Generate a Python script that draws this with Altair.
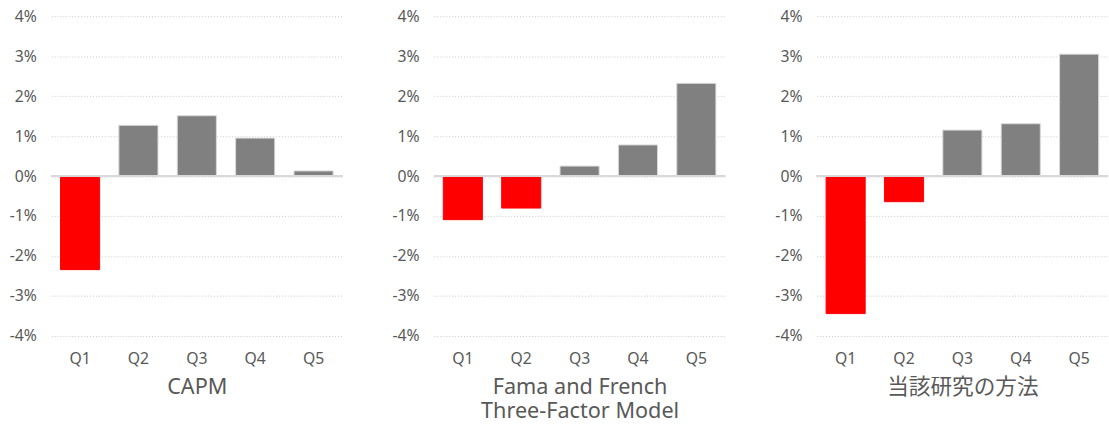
import altair as alt
import pandas as pd

quintiles = ["Q1", "Q2", "Q3", "Q4", "Q5"]
capm = [-2.34, 1.27, 1.51, 0.95, 0.13]
ff3 = [-1.09, -0.80, 0.25, 0.78, 2.32]
study = [-3.44, -0.64, 1.15, 1.31, 3.05]
titles = ["CAPM", ["Fama and French", "Three-Factor Model"], "当該研究の方法"]
y_ticks = [-4, -3, -2, -1, 0, 1, 2, 3, 4]

FONT = "'Noto Sans', 'Noto Sans CJK JP', sans-serif"
TXT = "#595959"


def panel(values, title):
    df = pd.DataFrame({"q": quintiles, "v": values})
    base = alt.Chart(df)
    x = alt.X(
        "q:N",
        sort=quintiles,
        scale=alt.Scale(paddingInner=0.33, paddingOuter=0.16),
        axis=alt.Axis(
            title=title,
            labelAngle=0,
            domain=False,
            ticks=False,
            labelPadding=15,
            labelFontSize=16,
            labelColor=TXT,
            labelFont=FONT,
            titleFont=FONT,
            titleFontSize=22,
            titleFontWeight="normal",
            titleColor=TXT,
            titlePadding=10,
        ),
    )
    y = alt.Y(
        "v:Q",
        scale=alt.Scale(domain=[-4, 4], nice=False),
        axis=alt.Axis(
            title=None,
            values=y_ticks,
            labelExpr="datum.value + '%'",
            domain=False,
            ticks=False,
            labelPadding=15,
            labelFontSize=16,
            labelColor=TXT,
            labelFont=FONT,
            grid=True,
            gridDash=[1, 2],
            gridColor="#c8c8c8",
            gridWidth=1,
        ),
    )
    bars = base.mark_bar(strokeWidth=1).encode(
        x=x,
        y=y,
        fill=alt.condition("datum.v < 0", alt.value("#ff0000"), alt.value("#808080")),
        stroke=alt.condition("datum.v < 0", alt.value("#ff0000"), alt.value("#d9d9d9")),
    )
    zero = base.mark_rule(color="#d9d9d9", strokeWidth=2).encode(
        y=alt.datum(0)
    )
    return alt.layer(bars, zero).properties(width=296, height=325)


chart = (
    alt.hconcat(*[panel(v, t) for v, t in zip([capm, ff3, study], titles)], spacing=49)
    .properties(padding={"left": 9, "top": 5, "right": 0, "bottom": 0})
    .configure_view(stroke=None)
    .configure_axis(titleLineHeight=25)
)

chart.save("out.html", embed_options={"renderer": "svg", "actions": False})
